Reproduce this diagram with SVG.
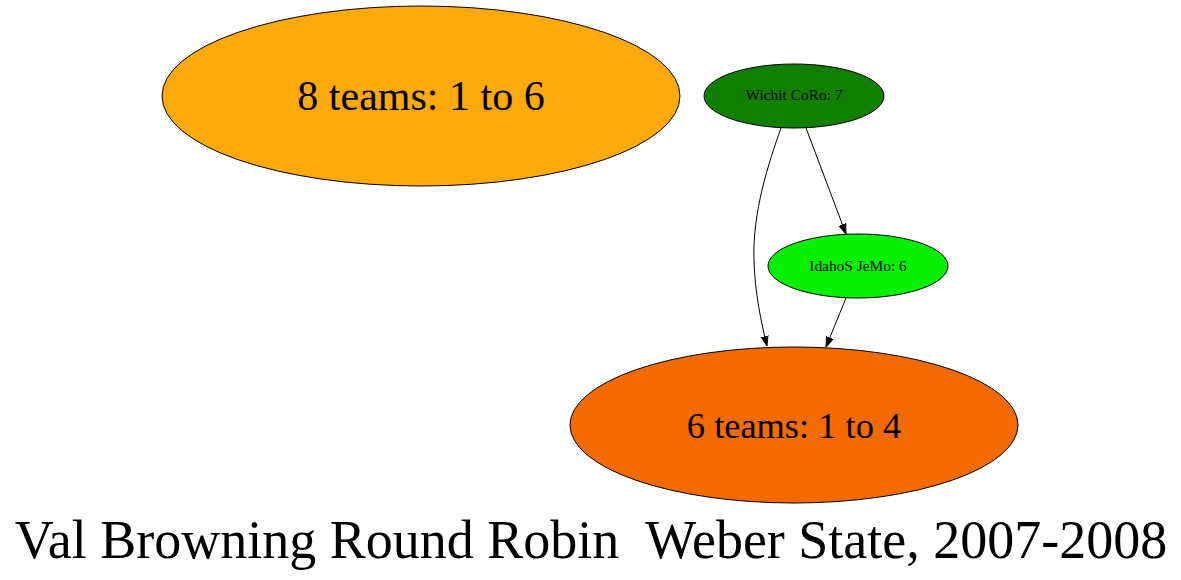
<svg xmlns="http://www.w3.org/2000/svg" width="1181" height="580" viewBox="0 0 1181 580">
<defs>
<style>
.n{stroke:#000;stroke-width:1}
.t{font-family:"Liberation Serif","Times New Roman",serif;text-anchor:middle;fill:#000}
.e{fill:none;stroke:#000;stroke-width:1}
</style>
<marker id="ah" viewBox="0 0 10 10" refX="10" refY="5" markerWidth="10" markerHeight="10" markerUnits="userSpaceOnUse" orient="auto">
<path d="M0,1.5 L10,5 L0,8.5 Z" fill="#000" stroke="#000"/>
</marker>
</defs>
<rect width="1181" height="580" fill="#fff"/>
<g id="edges">
<path class="e" d="M781,128 C769,162 752,212 754,262 C755,292 761,322 767,346" marker-end="url(#ah)"/>
<path class="e" d="M806,128 L846,234" marker-end="url(#ah)"/>
<path class="e" d="M846,298 L826,347" marker-end="url(#ah)"/>
</g>
<g id="n8teams">
<ellipse class="n" cx="421" cy="96" rx="259" ry="90" fill="#fca90c"/>
<text class="t" x="421" y="110" font-size="42">8 teams: 1 to 6</text>
</g>
<g id="wichit">
<ellipse class="n" cx="794" cy="96" rx="90" ry="32" fill="#117f00"/>
<text class="t" x="794" y="100" font-size="15.4">Wichit CoRo: 7</text>
</g>
<g id="idahos">
<ellipse class="n" cx="858" cy="266" rx="90" ry="32" fill="#06f000"/>
<text class="t" x="858" y="271" font-size="15.4">IdahoS JeMo: 6</text>
</g>
<g id="n6teams">
<ellipse class="n" cx="794" cy="425" rx="224" ry="78" fill="#f26a00"/>
<text class="t" x="794" y="438" font-size="36.4">6 teams: 1 to 4</text>
</g>
<g id="title">
<text class="t" x="591" y="558" font-size="54" style="white-space:pre" xml:space="preserve">Val Browning Round Robin  Weber State, 2007-2008</text>
</g>
</svg>
